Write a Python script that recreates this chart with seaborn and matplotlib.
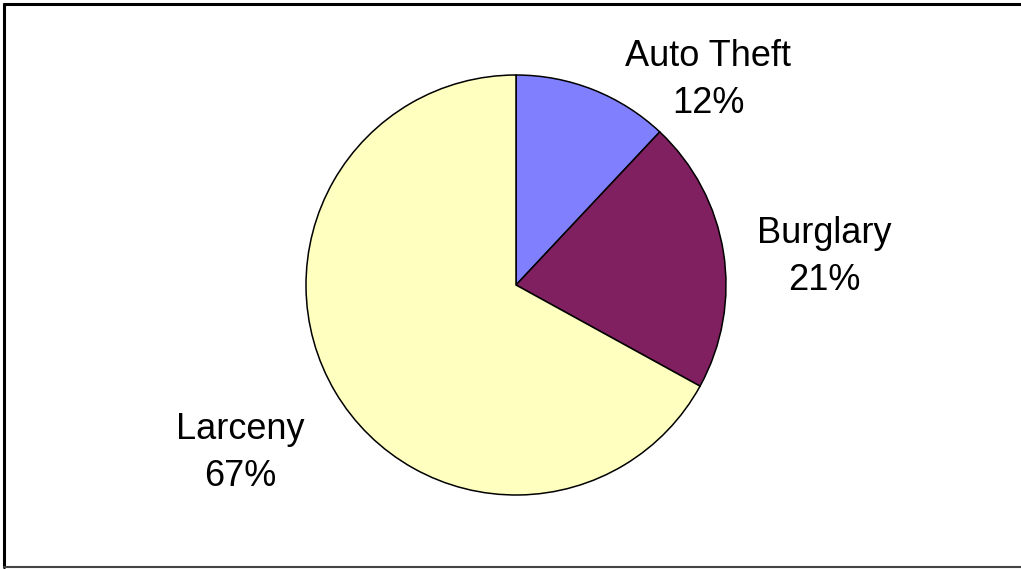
import matplotlib
matplotlib.use("Agg")
import matplotlib.pyplot as plt
from matplotlib.lines import Line2D
import seaborn as sns

categories = ["Auto Theft", "Burglary", "Larceny"]
shares = [12, 21, 67]
colors = ["#8080FF", "#802060", "#FFFFC0"]
# label anchor points in pie-radius units
label_xy = [(0.914, 0.976), (1.467, 0.133), (-1.314, -0.80)]

sns.set_theme(style="white")
plt.rcParams["font.family"] = ["Liberation Sans", "DejaVu Sans"]

W, H = 1021, 569
fig = plt.figure(figsize=(W / 100, H / 100), dpi=100)
fig.patch.set_facecolor("white")

# pie occupies a square box of 420 px centred at (516, 285)
cx, cy, r = 516, 285, 210
ax = fig.add_axes([(cx - r) / W, (H - cy - r) / H, 2 * r / W, 2 * r / H])
ax.pie(shares, colors=colors, startangle=90, counterclock=False,
       wedgeprops=dict(edgecolor="black", linewidth=1.1))
ax.set_xlim(-1, 1)
ax.set_ylim(-1, 1)
ax.set_aspect("auto")
ax.axis("off")

for name, val, (x, y) in zip(categories, shares, label_xy):
    ax.text(x, y, f"{name}\n{val}%", ha="center", va="center",
            fontsize=26, linespacing=1.45, color="black", clip_on=False)

# chart-area frame: black top/left, grey bottom
fig.add_artist(Line2D([4 / W, 4 / W], [1 - 4 / H, 1 - 566.5 / H],
                      transform=fig.transFigure, color="black", linewidth=2.2))
fig.add_artist(Line2D([4 / W, 1], [1 - 4 / H, 1 - 4 / H],
                      transform=fig.transFigure, color="black", linewidth=2.2))
fig.add_artist(Line2D([4 / W, 1], [1 - 566.5 / H, 1 - 566.5 / H],
                      transform=fig.transFigure, color="#444444", linewidth=1.5))

fig.savefig("out.png", dpi=100)
